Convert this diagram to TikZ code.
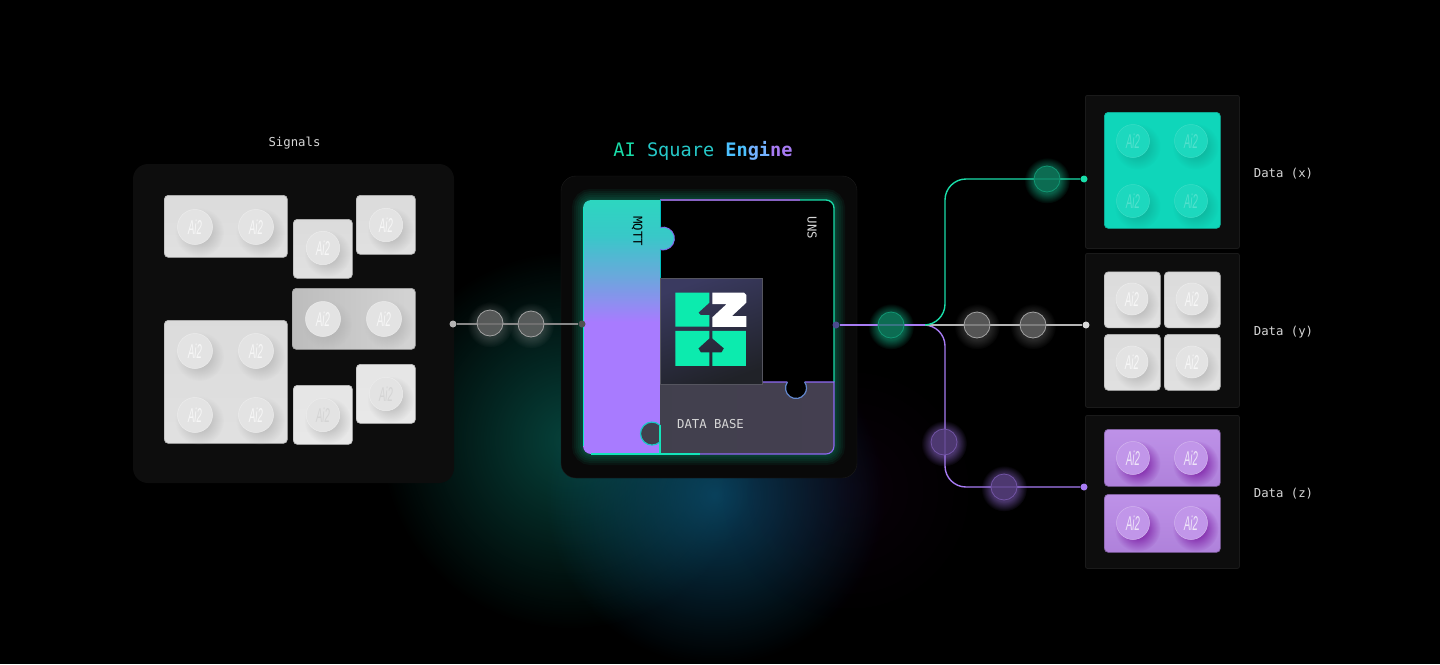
\documentclass[tikz,border=0pt]{standalone}
\usepackage{fontspec}
\usepackage{graphicx}
\setmonofont{DejaVu Sans Mono}
\newfontfamily\studfont{Liberation Sans}
\usetikzlibrary{fadings}
\definecolor{gteal}{HTML}{19DDA9}
\definecolor{logoteal}{HTML}{0CEBAE}
\definecolor{gpurple}{HTML}{A77BF3}
\definecolor{ggray}{HTML}{B4B4B4}
\definecolor{panelfill}{HTML}{0D0D0D}
\definecolor{panelrim}{HTML}{1A1A1A}
\definecolor{labelgray}{HTML}{D6D6D6}
\definecolor{mqttpurple}{HTML}{A87BFF}
\definecolor{mqttmid}{HTML}{6AA8DC}
\definecolor{mqttcyan}{HTML}{38C8C8}
\definecolor{mqttteal}{HTML}{2DD6C0}
\definecolor{dbfill}{HTML}{41404D}
\definecolor{dbfillb}{HTML}{443F50}
\definecolor{logotl}{HTML}{3A3A60}
\definecolor{logobr}{HTML}{202228}
\definecolor{logorim}{HTML}{55555F}
\definecolor{brickt}{HTML}{0FD6BA}
\definecolor{brickv}{HTML}{B888E6}
\definecolor{portdark}{HTML}{4B4B8F}
\definecolor{glowteal}{HTML}{0B6E62}
\definecolor{glowblue}{HTML}{0E5A82}
\colorlet{studface}{white}
\colorlet{studrim}{white}
\colorlet{studtext}{white}
\colorlet{studshade}{gray}
\pgfdeclareverticalshading{mqttshade}{100bp}{color(0bp)=(mqttpurple); color(51bp)=(mqttpurple); color(60bp)=(mqttmid); color(68bp)=(mqttcyan); color(75bp)=(mqttteal); color(100bp)=(mqttteal)}
\tikzfading[name=glowfade, inner color=transparent!0, outer color=transparent!100]
\pgfdeclareradialshading{bubshade}{\pgfpointorigin}{color(0bp)=(pgftransparent!0); color(14bp)=(pgftransparent!0); color(25bp)=(pgftransparent!100); color(50bp)=(pgftransparent!100)}
\pgfdeclarefading{bubfade}{\pgfuseshading{bubshade}}
\tikzset{
  panel/.style={rectangle,rounded corners=2pt,fill=panelfill,draw=panelrim,line width=.8pt,anchor=north west,inner sep=0pt},
  brick/.style={rectangle,rounded corners=4pt,inner sep=0pt,anchor=north west,line width=.7pt},
  brickgray/.style={brick,top color=black!14,bottom color=black!12,draw=black!28},
  brickdim/.style={brick,left color=black!26,right color=black!17,draw=black!35},
  brickpale/.style={brick,top color=black!10,bottom color=black!9,draw=black!24},
  brickteal/.style={brick,fill=brickt,draw=brickt!85!black},
  brickviolet/.style={brick,top color=brickv!92!white,bottom color=brickv!95!black,draw=brickv!70!black},
  stud/.style={circle,inner sep=0pt,fill=studface,draw=studrim,line width=.5pt,text=studtext,font=\studfont\itshape\fontsize{20}{20}\selectfont},
  bubble/.style={circle,minimum size=26pt,inner sep=0pt,line width=.8pt,fill opacity=.72},
  wiregray/.style={line width=1.5pt,color=ggray},
  wireteal/.style={line width=1.4pt,color=gteal,rounded corners=21pt},
  wireviolet/.style={line width=1.4pt,color=gpurple,rounded corners=21pt},
  enddot/.style={circle,minimum size=7pt,inner sep=0pt},
  txt/.style={font=\ttfamily\fontsize{12.3}{14}\selectfont,text=labelgray,inner sep=0pt},
}
\newcommand{\studat}[4]{%
  \fill[studshade,path fading=glowfade] (#2+4.5,#3+5.5) circle (#4*1.4);
  \node[stud,minimum size=2*#4 pt] (#1) at (#2,#3) {\scalebox{.48}[1]{Ai2}};
}
\newcommand{\bubbleat}[5]{%
  \node[bubble,fill=#4,draw=#5] (#1) at (#2,#3) {};
}
\begin{document}
\begin{tikzpicture}[x=1pt,y=-1pt]
  \fill[black] (0,0) rectangle (1440,664);
  \useasboundingbox (0,0) rectangle (1440,664);
  % background glow
  \fill[glowteal,path fading=glowfade,opacity=.6] (570,440) circle (190);
  \fill[glowblue,path fading=glowfade,opacity=.68] (715,495) circle (170);
  \fill[violet!70!black,path fading=glowfade,opacity=.1] (850,490) circle (130);

  % signals
  \node[txt] (signalslabel) at (294.5,143) {Signals};
  \fill[panelfill] (133,164) [rounded corners=15pt] rectangle (454,483);
  \colorlet{studface}{black!11}\colorlet{studrim}{black!7}\colorlet{studtext}{black!3}\colorlet{studshade}{black!32}
  \node[brickgray,minimum width=123pt,minimum height=62pt] (sigA) at (164,195) {};
  \node[brickgray,minimum width=59pt,minimum height=59pt] (sigB) at (293,219) {};
  \node[brickgray,minimum width=59pt,minimum height=59pt] (sigC) at (356,195) {};
  \node[brickdim,minimum width=123pt,minimum height=61pt] (sigD) at (292,288) {};
  \node[brickgray,minimum width=123pt,minimum height=123pt] (sigE) at (164,320) {};
  \node[brickpale,minimum width=59pt,minimum height=59pt] (sigF) at (293,385) {};
  \node[brickpale,minimum width=59pt,minimum height=59pt] (sigG) at (356,364) {};
  \foreach \nm/\cx/\cy in {sA1/195/227,sA2/256/227,sE1/195/351,sE2/256/351,sE3/195/415,sE4/256/415,sD1/323/319,sD2/384/319}
    {\studat{\nm}{\cx}{\cy}{17.5}}
  \foreach \nm/\cx/\cy in {sB1/323/248,sC1/386/225}
    {\studat{\nm}{\cx}{\cy}{16.7}}
  \colorlet{studtext}{black!17}
  \foreach \nm/\cx/\cy in {sF1/323/415,sG1/386/394}
    {\studat{\nm}{\cx}{\cy}{16.7}}

  % engine
  \node[font=\ttfamily\fontsize{18.6}{20}\selectfont,inner sep=0pt] (enginelabel) at (703,151) {\textcolor{gteal}{AI}\ \textcolor{teal!50!cyan!85!white}{Square}\ {\bfseries\textcolor{blue!35!cyan!70!white}{En}\textcolor{blue!55!cyan!55!white}{gi}\textcolor{gpurple}{ne}}};
  \fill[panelfill!70!black] (561,176) [rounded corners=15pt] rectangle (857,478);
  \draw[panelrim,rounded corners=15pt] (561,176) rectangle (857,478);
  \foreach \w in {22,18,14,10,6,3}
    \draw[gteal,opacity=.055,line width=\w pt,rounded corners=8pt] (583,200) rectangle (834,454);
  \fill[black,rounded corners=8pt] (583,200) rectangle (834,454);
  % puzzle pieces
  \draw[line width=1.3pt,color=gteal] (660,200) [rounded corners=8pt] -- (834,200) -- (834,254) [sharp corners] -- (834,382);
  \draw[line width=1.2pt,color=gpurple!80!black] (660,200) -- (800,200);
  \shade[shading=mqttshade] (660,200) -- (660,227.4) arc[start angle=-105,end angle=105,radius=11.5] -- (660,454) [rounded corners=8pt] -- (583,454) -- (583,200) [sharp corners] -- cycle;
  \draw[line width=.8pt,color=gpurple!80!blue] (660,227.4) arc[start angle=-105,end angle=105,radius=11.5];
  \draw[line width=1pt,color=teal!50!cyan] (660,200) -- (660,227.4) (660,250) -- (660,454);
  \shade[left color=dbfill,right color=dbfillb] (660,382) -- (787.4,382) arc[start angle=215,end angle=-35,radius=10.5] -- (834,382) [rounded corners=8pt] -- (834,454) [sharp corners] -- (660,454) -- (660,425.3) arc[start angle=-46,end angle=-314,radius=11.5] -- cycle;
  \fill[black] (796,388) circle (9.6);
  \draw[line width=1.1pt,color=gpurple!85!blue] (760,382) -- (787.4,382) (804.6,382) -- (834,382) [rounded corners=8pt] -- (834,454) -- (700,454);
  \draw[line width=1.2pt,color=cyan!40!blue!65!white] (787.4,382) arc[start angle=215,end angle=-35,radius=10.5];
  \draw[line width=1.1pt,color=gteal!80!cyan] (700,454) -- (591,454) (660,454) -- (660,425.3);
  \draw[line width=1.2pt,color=teal!50!cyan!90!white] (660,425.3) arc[start angle=-46,end angle=-314,radius=11.5];
  \draw[line width=1pt,color=gteal!70!cyan] (583.5,446) -- (583.5,208);
  \node[txt,rotate=-90,text=black] (mqttlabel) at (637,231) {MQTT};
  \node[txt,rotate=-90] (unslabel) at (812,228) {UNS};
  \node[txt,text=labelgray] (dblabel) at (710.5,424.5) {DATA BASE};
  % logo
  \shade[left color=logotl,right color=logobr,shading angle=20] (660,278) rectangle (762,384);
  \draw[logorim,line width=.8pt] (660,278) rectangle (762,384);
  \begin{scope}[shift={(650pt,-270pt)},x=.3333pt,y=-.3333pt]
    \fill[logoteal] (76,68) -- (178,68) -- (178,98) -- (145,128) -- (152,135) -- (178,135) -- (178,170) -- (76,170) -- cycle;
    \fill[white] (187,68) -- (282,68) -- (289,75) -- (289,98) -- (246,138) -- (289,138) -- (289,171) -- (187,171) -- (187,142) -- (230,102) -- (187,102) -- cycle;
    \fill[logoteal] (76,183) -- (178,183) -- (178,205) -- (145,235) -- (152,247) -- (178,247) -- (178,288) -- (76,288) -- cycle;
    \fill[logoteal] (187,183) -- (288,183) -- (288,288) -- (187,288) -- (187,247) -- (215,247) -- (222,235) -- (187,205) -- cycle;
  \end{scope}

  % data x
  \node[panel,minimum width=154pt,minimum height=153pt] (panelx) at (1085,95) {};
  \node[brickteal,minimum width=116pt,minimum height=116pt] (dataX) at (1104,112) {};
  \colorlet{studface}{brickt!94!white}\colorlet{studrim}{brickt!82!white}\colorlet{studtext}{brickt!72!white}\colorlet{studshade}{brickt!78!black}
  \foreach \nm/\cx/\cy in {xA/1133/141,xB/1191/141,xC/1133/201,xD/1191/201}
    {\studat{\nm}{\cx}{\cy}{16.5}}
  \node[txt] (labelx) at (1283.5,174) {Data (x)};

  % data y
  \node[panel,minimum width=154pt,minimum height=154pt] (panely) at (1085,253) {};
  \colorlet{studface}{black!11}\colorlet{studrim}{black!7}\colorlet{studtext}{black!3}\colorlet{studshade}{black!32}
  \node[brickgray,minimum width=56pt,minimum height=56pt] (dataYa) at (1104,271.5) {};
  \node[brickgray,minimum width=56pt,minimum height=56pt] (dataYb) at (1164,271.5) {};
  \node[brickgray,minimum width=56pt,minimum height=56pt] (dataYc) at (1104,334) {};
  \node[brickgray,minimum width=56pt,minimum height=56pt] (dataYd) at (1164,334) {};
  \foreach \nm/\cx/\cy in {yA/1132/299,yB/1192/299,yC/1132/362,yD/1192/362}
    {\studat{\nm}{\cx}{\cy}{16}}
  \node[txt] (labely) at (1283.5,332.5) {Data (y)};

  % data z
  \node[panel,minimum width=154pt,minimum height=153pt] (panelz) at (1085,415) {};
  \node[brickviolet,minimum width=116pt,minimum height=57pt] (dataZa) at (1104,429) {};
  \node[brickviolet,minimum width=116pt,minimum height=58pt] (dataZb) at (1104,494) {};
  \colorlet{studface}{brickv!88!white}\colorlet{studrim}{brickv!62!white}\colorlet{studtext}{brickv!22!white}\colorlet{studshade}{violet!85!blue}
  \foreach \nm/\cx/\cy in {zA/1133/458,zB/1191/458,zC/1133/523,zD/1191/523}
    {\studat{\nm}{\cx}{\cy}{16.5}}
  \node[txt] (labelz) at (1283.5,494) {Data (z)};

  % wires
  \foreach \cx/\cy/\cc/\op in {490/323/ggray/.22,531/324/ggray/.22,891/325/gteal/.42,1047/179/gteal/.42,977/325/ggray/.22,1033/325/ggray/.22,944/442/gpurple/.42,1004/487/gpurple/.42}
    \fill[\cc,path fading=bubfade,opacity=\op] (\cx,\cy+1.5) circle (23);
  \node[enddot,fill=ggray] (sigout) at (453,324) {};
  \node[enddot,fill=ggray!45!black] (enginein) at (582,324) {};
  \draw[wiregray,color=ggray!75!black] (sigout) -- (enginein);
  \node[enddot,fill=portdark] (engineout) at (836,325) {};
  \coordinate (hub) at (925,325);
  \coordinate (upelbow) at (945,250);
  \coordinate (downelbow) at (945,400);
  \node[enddot,fill=gteal] (outx) at (1084,179) {};
  \node[enddot,fill=black!15] (outy) at (1086,325) {};
  \node[enddot,fill=gpurple] (outz) at (1084,487) {};
  \draw[wireviolet] (hub) -| (downelbow) |- (outz);
  \draw[wiregray] (hub) -- (outy);
  \draw[wireteal] (hub) -| (upelbow) |- (outx);
  \draw[line width=1.4pt,color=gpurple] (engineout) -- (hub);
  \bubbleat{bubL}{490}{323}{ggray!58!black}{ggray!90!black}
  \bubbleat{bubR}{531}{324}{ggray!58!black}{ggray!90!black}
  \bubbleat{bubM}{891}{325}{gteal!52!black}{gteal!68!black}
  \bubbleat{bubX}{1047}{179}{gteal!52!black}{gteal!68!black}
  \bubbleat{bubY1}{977}{325}{ggray!58!black}{ggray!90!black}
  \bubbleat{bubY2}{1033}{325}{ggray!58!black}{ggray!90!black}
  \bubbleat{bubZ1}{944}{442}{gpurple!48!black}{gpurple!68!black}
  \bubbleat{bubZ2}{1004}{487}{gpurple!48!black}{gpurple!68!black}
\end{tikzpicture}
\end{document}
